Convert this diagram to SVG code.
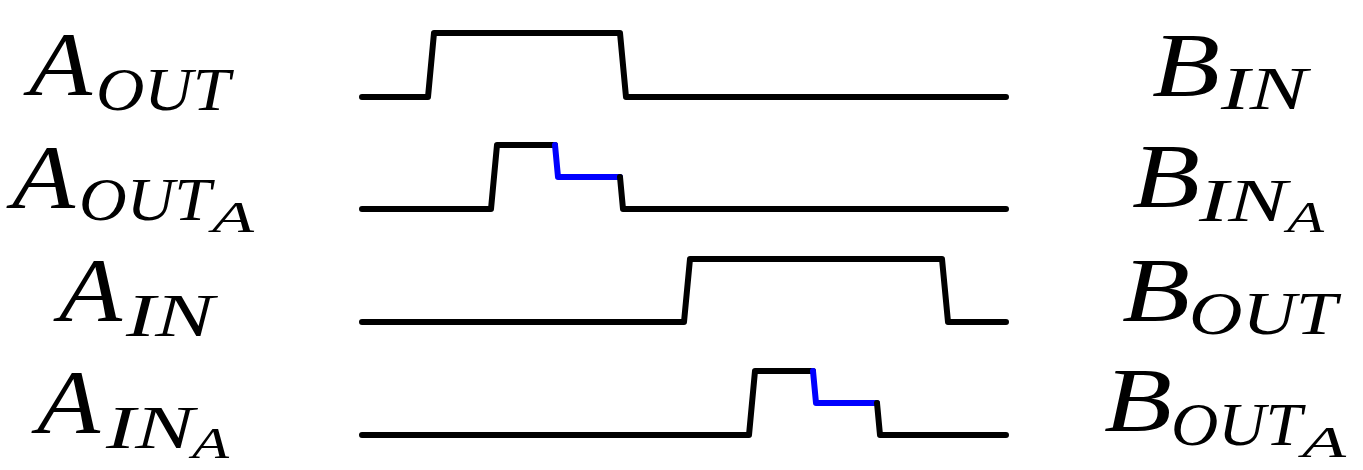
<svg xmlns="http://www.w3.org/2000/svg" width="1363" height="470" viewBox="0 0 1363 470">
<style>
.w{fill:none;stroke:#000;stroke-width:6;stroke-linejoin:round;stroke-linecap:round}
.b{fill:none;stroke:#0000ff;stroke-width:6;stroke-linejoin:round;stroke-linecap:round}
text{font-family:"Liberation Serif","Times New Roman",serif;font-style:italic;font-weight:normal;fill:#000}
.m{font-size:92px}
.s{font-size:61px}
.ss{font-size:44px}
</style>
<rect width="1363" height="470" fill="#fff"/>
<g id="label-A-OUT">
<text class="m" x="29" y="95" textLength="63" lengthAdjust="spacingAndGlyphs">A</text>
<text class="s" x="96" y="110" textLength="134" lengthAdjust="spacingAndGlyphs">OUT</text>
</g>
<g id="label-A-OUT-A">
<text class="m" x="12" y="208" textLength="63" lengthAdjust="spacingAndGlyphs">A</text>
<text class="s" x="79" y="220" textLength="132" lengthAdjust="spacingAndGlyphs">OUT</text>
<text class="ss" x="212" y="232" textLength="42" lengthAdjust="spacingAndGlyphs">A</text>
</g>
<g id="label-A-IN">
<text class="m" x="59" y="321" textLength="63" lengthAdjust="spacingAndGlyphs">A</text>
<text class="s" x="126" y="336" textLength="88" lengthAdjust="spacingAndGlyphs">IN</text>
</g>
<g id="label-A-IN-A">
<text class="m" x="37" y="433" textLength="63" lengthAdjust="spacingAndGlyphs">A</text>
<text class="s" x="106" y="448" textLength="88" lengthAdjust="spacingAndGlyphs">IN</text>
<text class="ss" x="192" y="458" textLength="37" lengthAdjust="spacingAndGlyphs">A</text>
</g>
<g id="label-B-IN">
<text class="m" x="1152" y="96" textLength="68" lengthAdjust="spacingAndGlyphs">B</text>
<text class="s" x="1221" y="109" textLength="86" lengthAdjust="spacingAndGlyphs">IN</text>
</g>
<g id="label-B-IN-A">
<text class="m" x="1132" y="207" textLength="68" lengthAdjust="spacingAndGlyphs">B</text>
<text class="s" x="1199" y="221" textLength="88" lengthAdjust="spacingAndGlyphs">IN</text>
<text class="ss" x="1287" y="232" textLength="37" lengthAdjust="spacingAndGlyphs">A</text>
</g>
<g id="label-B-OUT">
<text class="m" x="1122" y="321" textLength="68" lengthAdjust="spacingAndGlyphs">B</text>
<text class="s" x="1189" y="334" textLength="148" lengthAdjust="spacingAndGlyphs">OUT</text>
</g>
<g id="label-B-OUT-A">
<text class="m" x="1104" y="431" textLength="68" lengthAdjust="spacingAndGlyphs">B</text>
<text class="s" x="1171" y="445" textLength="131" lengthAdjust="spacingAndGlyphs">OUT</text>
<text class="ss" x="1302" y="457" textLength="44" lengthAdjust="spacingAndGlyphs">A</text>
</g>
<g id="waveforms">
<path class="w" d="M362,97 H428 L434,33 H620 L626,97 H1006"/>
<path class="w" d="M362,209 H491 L497,145 H555"/>
<path class="b" d="M555,145 L558,177 H620"/>
<path class="w" d="M620,177 L623,209 H1006"/>
<path class="w" d="M362,322 H684 L690,259 H942 L948,322 H1006"/>
<path class="w" d="M362,435 H749 L755,371 H813"/>
<path class="b" d="M813,371 L816,403 H877"/>
<path class="w" d="M877,403 L880,435 H1006"/>
</g>
</svg>
